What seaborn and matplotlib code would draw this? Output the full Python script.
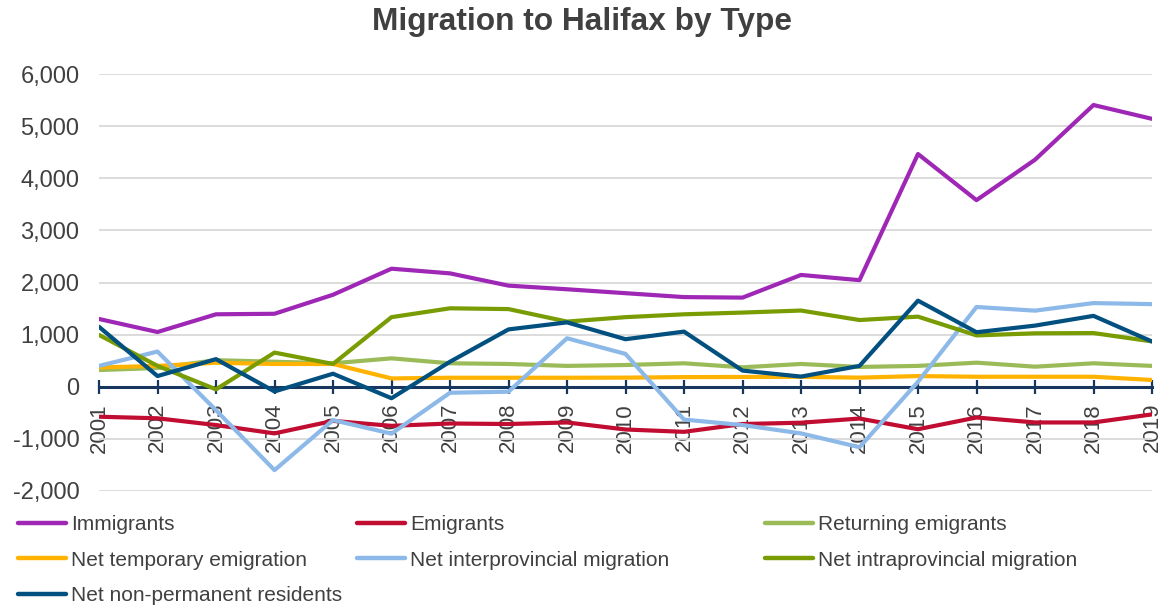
import matplotlib
matplotlib.use("Agg")
import matplotlib.pyplot as plt
import seaborn as sns
import pandas as pd
from matplotlib.lines import Line2D
from matplotlib.ticker import FuncFormatter, MultipleLocator

years = list(range(2001, 2020))
immigrants = [1300, 1050, 1390, 1400, 1765, 2265, 2175, 1940, 1870, 1795, 1720, 1710, 2145, 2045, 4465, 3580, 4355, 5405, 5140]
emigrants = [-575, -605, -735, -895, -655, -750, -705, -715, -685, -820, -865, -715, -690, -610, -815, -590, -685, -685, -530]
returning = [320, 360, 510, 480, 450, 545, 450, 437, 400, 417, 450, 373, 437, 380, 400, 462, 385, 450, 400]
net_temp = [370, 400, 460, 437, 437, 160, 173, 173, 173, 175, 185, 188, 190, 175, 205, 192, 192, 192, 130]
net_inter = [400, 675, -450, -1600, -640, -900, -115, -95, 930, 630, -630, -735, -895, -1160, 95, 1530, 1460, 1605, 1585]
net_intra = [995, 400, -50, 655, 437, 1335, 1505, 1490, 1250, 1335, 1390, 1423, 1462, 1280, 1345, 985, 1025, 1030, 870]
net_nonperm = [1150, 205, 530, -90, 250, -220, 480, 1100, 1235, 912, 1058, 310, 195, 400, 1652, 1046, 1173, 1360, 868]

series_names = ["Immigrants", "Emigrants", "Returning emigrants", "Net temporary emigration",
                "Net interprovincial migration", "Net intraprovincial migration", "Net non-permanent residents"]
series_values = [immigrants, emigrants, returning, net_temp, net_inter, net_intra, net_nonperm]
colors = ["#9E27B5", "#C00D31", "#9BBB59", "#FFB300", "#8DB9E8", "#789C02", "#01507F"]

frames = [pd.DataFrame({"Year": years, "Value": v, "Series": n}) for n, v in zip(series_names, series_values)]
df = pd.concat(frames, ignore_index=True)

sns.set_theme(style="white", rc={"xtick.bottom": True, "axes.axisbelow": False})
plt.rcParams['font.family'] = ['Liberation Sans', 'DejaVu Sans']

fig = plt.figure(figsize=(11.64, 6.06), dpi=100)
ax = fig.add_axes([99/1164, 1 - 491/606, (1152 - 99)/1164, (491 - 74)/606])

palette = dict(zip(series_names, colors))
sns.lineplot(data=df, x="Year", y="Value", hue="Series", hue_order=series_names,
             palette=palette, linewidth=3, legend=False, ax=ax, zorder=3)

ax.set_xlim(2001, 2019)
ax.set_ylim(-2000, 6000)
ax.yaxis.set_major_locator(MultipleLocator(1000))
ax.yaxis.set_major_formatter(FuncFormatter(lambda v, p: f"{int(v):,}"))
ax.grid(axis="y", color="#D9D9D9", linewidth=1.3)
ax.grid(axis="x", visible=False)
ax.set_xlabel("")
ax.set_ylabel("")

for s in ["top", "right", "left"]:
    ax.spines[s].set_visible(False)
ax.spines["bottom"].set_position(("data", 0))
ax.spines["bottom"].set_color("#17375E")
ax.spines["bottom"].set_linewidth(2.2)
ax.spines["bottom"].set_zorder(2.6)

ax.set_xticks(years)
ax.set_xticklabels([str(y) for y in years], rotation=90, fontsize=16, color="#404040")
ax.tick_params(axis="x", which="major", bottom=True, direction="inout", length=9.4, width=1.6,
               color="#17375E", pad=7)
for t in ax.xaxis.get_major_ticks():
    t.tick1line.set_visible(True)
    t.tick1line.set_zorder(2.6)
ax.tick_params(axis="y", left=False, length=0, labelsize=17, labelcolor="#404040", pad=14)

fig.text(0.5, 1 - 22/606, "Migration to Halifax by Type", ha="center", va="center",
         fontsize=22.8, fontweight="bold", color="#404040")

cols = [[0, 3, 6], [1, 4], [2, 5]]
xs = [18/1164, 357/1164, 765/1164]
for xpos, idxs in zip(xs, cols):
    handles = [Line2D([0], [0], color=colors[i], linewidth=3.2, solid_capstyle="round") for i in idxs]
    labels = [series_names[i] for i in idxs]
    fig.legend(handles, labels, loc="upper left", bbox_to_anchor=(xpos, 1 - 515/606),
               frameon=False, fontsize=15, handlelength=2.3, handletextpad=0.25,
               labelspacing=0.8, borderaxespad=0, borderpad=0, labelcolor="#404040")

fig.savefig("out.png", dpi=100)
